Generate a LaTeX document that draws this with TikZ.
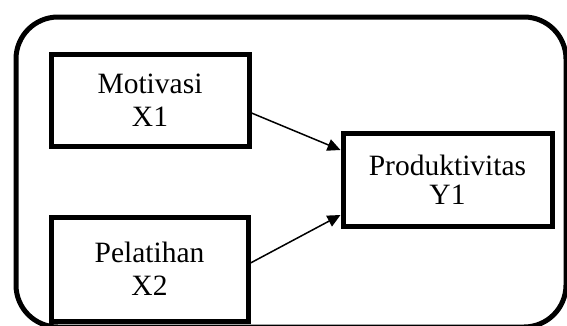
\documentclass[tikz,border=0pt]{standalone}
\usepackage{fontspec}
\setmainfont{Liberation Serif}
\usetikzlibrary{arrows.meta,calc}
\begin{document}
\begin{tikzpicture}[x=1pt,y=1pt,
  box/.style={draw=black,line width=5pt,rectangle,align=center,inner sep=0pt,
    font=\fontsize{29.5}{33}\selectfont},
  arr/.style={line width=1.5pt,-{Triangle[length=13pt,width=12pt]}}]
\useasboundingbox (0,0) rectangle (567,325);
\clip (0,0) rectangle (567,325);
\draw[line width=5pt,rounded corners=42pt] (16,-2) rectangle (566,308);
\node[box,minimum width=198pt,minimum height=92pt] (mot) at (150,225) {Motivasi\\X1};
\node[box,minimum width=197pt,minimum height=104pt] (pel) at (149.5,56) {Pelatihan\\X2};
\node[box,minimum width=209pt,minimum height=93pt,font=\fontsize{29.5}{29}\selectfont] (prod) at (447.5,145.5) {Produktivitas\\Y1};
\draw[arr] ([yshift=-13pt]mot.east) -- ([yshift=29.5pt]prod.west);
\draw[arr] ([yshift=6pt]pel.east) -- ([yshift=-35.5pt]prod.west);
\end{tikzpicture}
\end{document}
